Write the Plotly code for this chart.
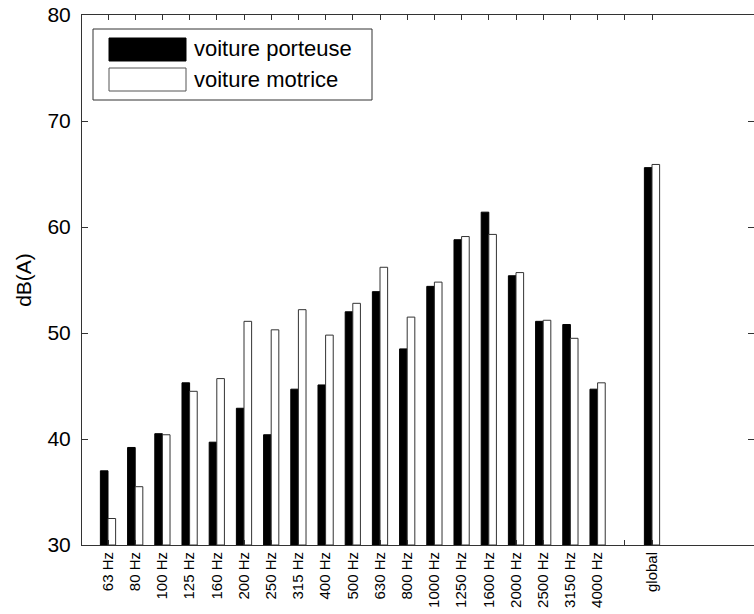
import plotly.graph_objects as go

bands = ["63 Hz", "80 Hz", "100 Hz", "125 Hz", "160 Hz", "200 Hz", "250 Hz", "315 Hz",
         "400 Hz", "500 Hz", "630 Hz", "800 Hz", "1000 Hz", "1250 Hz", "1600 Hz",
         "2000 Hz", "2500 Hz", "3150 Hz", "4000 Hz"]
porteuse = [37.0, 39.2, 40.5, 45.3, 39.7, 42.9, 40.4, 44.7, 45.1, 52.0, 53.9, 48.5,
            54.4, 58.8, 61.4, 55.4, 51.1, 50.8, 44.7]
motrice = [32.5, 35.5, 40.4, 44.5, 45.7, 51.1, 50.3, 52.2, 49.8, 52.8, 56.2, 51.5,
           54.8, 59.1, 59.3, 55.7, 51.2, 49.5, 45.3]
global_label = "global"
global_porteuse = 65.6
global_motrice = 65.9

labels = bands + ["", global_label]
pos = list(range(len(labels)))
x_bands = pos[:len(bands)] + [pos[-1]]
y_port = porteuse + [global_porteuse]
y_motr = motrice + [global_motrice]

FONT = "Liberation Sans, Arial, Helvetica, sans-serif"

fig = go.Figure()
fig.add_trace(go.Bar(x=x_bands, y=[v - 30 for v in y_port], base=30, name="voiture porteuse",
                     marker=dict(color="black", line=dict(color="black", width=1)),
                     showlegend=False))
fig.add_trace(go.Bar(x=x_bands, y=[v - 30 for v in y_motr], base=30, name="voiture motrice",
                     marker=dict(color="white", line=dict(color="#333333", width=1)),
                     showlegend=False))

W, H = 754, 614
# plot area in window pixels: x 82..754, y 15..545
L, R, T, B = 82, 754, 15, 545
def px(xp):
    return (xp - L) / (R - L)
def py(yp):
    return (B - yp) / (B - T)

shapes = [
    dict(type="rect", xref="paper", yref="paper", x0=px(93), x1=px(372), y0=py(100), y1=py(29),
         line=dict(color="#333333", width=1), fillcolor="white", layer="above"),
    dict(type="rect", xref="paper", yref="paper", x0=px(109), x1=px(186), y0=py(61), y1=py(38),
         line=dict(color="black", width=1), fillcolor="black", layer="above"),
    dict(type="rect", xref="paper", yref="paper", x0=px(109), x1=px(186), y0=py(91), y1=py(68),
         line=dict(color="#555555", width=1), fillcolor="white", layer="above"),
]
annotations = [
    dict(xref="paper", yref="paper", x=px(192), y=py(49), text="voiture porteuse", showarrow=False,
         xanchor="left", yanchor="middle", font=dict(family=FONT, size=22, color="black")),
    dict(xref="paper", yref="paper", x=px(192), y=py(80), text="voiture motrice", showarrow=False,
         xanchor="left", yanchor="middle", font=dict(family=FONT, size=22, color="black")),
]

fig.update_layout(
    width=W, height=H,
    margin=dict(l=L, r=W - R, t=T, b=H - B),
    plot_bgcolor="white", paper_bgcolor="white",
    barmode="group", bargap=0.44, bargroupgap=0,
    shapes=shapes, annotations=annotations,
    font=dict(family=FONT, color="black"),
)
fig.update_xaxes(
    range=[-0.956, 23.75], tickmode="array", tickvals=pos, ticktext=labels,
    tickangle=-90, tickfont=dict(size=15, family=FONT),
    ticks="inside", ticklen=5, tickcolor="#333333",
    showline=True, linecolor="#333333", linewidth=1, mirror="ticks",
    showgrid=False, zeroline=False, automargin=False,
)
fig.update_yaxes(
    range=[30, 80], tickvals=[30, 40, 50, 60, 70, 80],
    tickfont=dict(size=21, family=FONT),
    ticks="inside", ticklen=6, tickcolor="#333333", ticklabelstandoff=6,
    ticklabeloverflow="allow",
    showline=True, linecolor="#333333", linewidth=1, mirror="ticks",
    showgrid=False, zeroline=False, automargin="left",
    title=dict(text="dB(A)", font=dict(size=21, family=FONT), standoff=10),
)

fig.write_html("out.html", config={"displayModeBar": False},
               post_script="document.body.style.margin='0';document.body.style.overflow='hidden';")
